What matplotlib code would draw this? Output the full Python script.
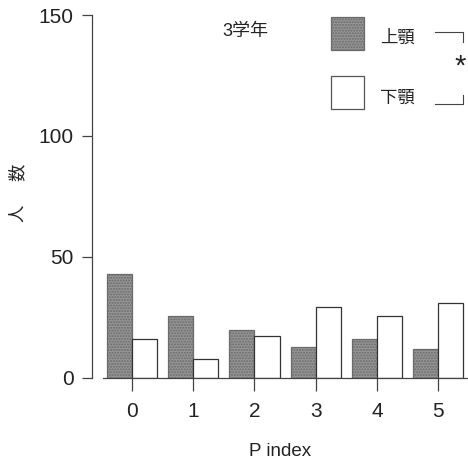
import matplotlib.pyplot as plt
import numpy as np
from matplotlib.patches import Rectangle
from matplotlib.lines import Line2D

plt.rcParams['font.family'] = ['Liberation Sans', 'Noto Sans CJK JP', 'DejaVu Sans']

# number of students per P index, 3rd grade
p_index = [0, 1, 2, 3, 4, 5]
upper_jaw = [43, 25.5, 20, 13, 16, 12]
lower_jaw = [16, 8, 17.5, 29.5, 25.5, 31]
series_names = ['上顎', '下顎']

gray = '#969696'
ink = '#222222'
line_c = '#444444'

fig = plt.figure(figsize=(4.68, 4.63), dpi=100)
ax = fig.add_axes([0.1966, 0.1836, 0.8034, 0.784])

x = np.array(p_index)
w = 0.41
ax.bar(x - w / 2, upper_jaw, width=w, color=gray, edgecolor='#6a6a6a',
       linewidth=0.9, hatch='......')
ax.bar(x + w / 2, lower_jaw, width=w, color='white', edgecolor='#333333',
       linewidth=0.9)

ax.set_xlim(-0.654, 5.49)
ax.set_ylim(0, 150)
ax.set_yticks([0, 50, 100, 150])
ax.set_xticks(p_index)

ax.spines['top'].set_visible(False)
ax.spines['right'].set_visible(False)
ax.spines['bottom'].set_bounds(-0.47, 5.49)
for s in ('left', 'bottom'):
    ax.spines[s].set_color(line_c)
    ax.spines[s].set_linewidth(0.9)

ax.tick_params(axis='y', length=7.2, width=0.9, color=line_c, pad=6,
               labelsize=15, labelcolor=ink)
ax.tick_params(axis='x', length=9.4, width=0.9, color=line_c, pad=8,
               labelsize=15, labelcolor=ink)

ax.set_xlabel('P index', fontsize=13.5, color=ink, labelpad=16)

# vertical y label, one character at a time
fig.text(0.037, 1 - 213 / 463, '人', rotation=90, fontsize=12.5, color=ink,
         ha='center', va='center', family=['Noto Sans CJK JP'])
fig.text(0.037, 1 - 172 / 463, '数', rotation=90, fontsize=12.5, color=ink,
         ha='center', va='center', family=['Noto Sans CJK JP'])

ax.text(0.346, 0.955, '3学年', transform=ax.transAxes, fontsize=13,
        color=ink, ha='left', va='center')

# legend boxes
ax.add_patch(Rectangle((0.636, 0.9036), 0.087, 0.091, transform=ax.transAxes,
                       facecolor=gray, edgecolor='#6a6a6a', hatch='......',
                       linewidth=0.9, clip_on=False))
ax.add_patch(Rectangle((0.636, 0.741), 0.087, 0.091, transform=ax.transAxes,
                       facecolor='white', edgecolor='#555555',
                       linewidth=0.9, clip_on=False))
for name, yy in zip(series_names, [0.937, 0.771]):
    ax.text(0.766, yy, name, transform=ax.transAxes, fontsize=12.5, color=ink,
            ha='left', va='center', family=['Noto Sans CJK JP'])

# significance bracket between the two jaws
bx0, bx1 = 0.912, 0.987
ax.add_line(Line2D([bx0, bx1, bx1], [0.953, 0.953, 0.926], transform=ax.transAxes,
                   color=line_c, lw=0.8, clip_on=False))
ax.add_line(Line2D([bx0, bx1, bx1], [0.755, 0.755, 0.780], transform=ax.transAxes,
                   color=line_c, lw=0.8, clip_on=False))
ax.text(0.978, 0.858, '*', transform=ax.transAxes, fontsize=21, color=ink,
        ha='center', va='center')

fig.savefig('out.png', dpi=100)
